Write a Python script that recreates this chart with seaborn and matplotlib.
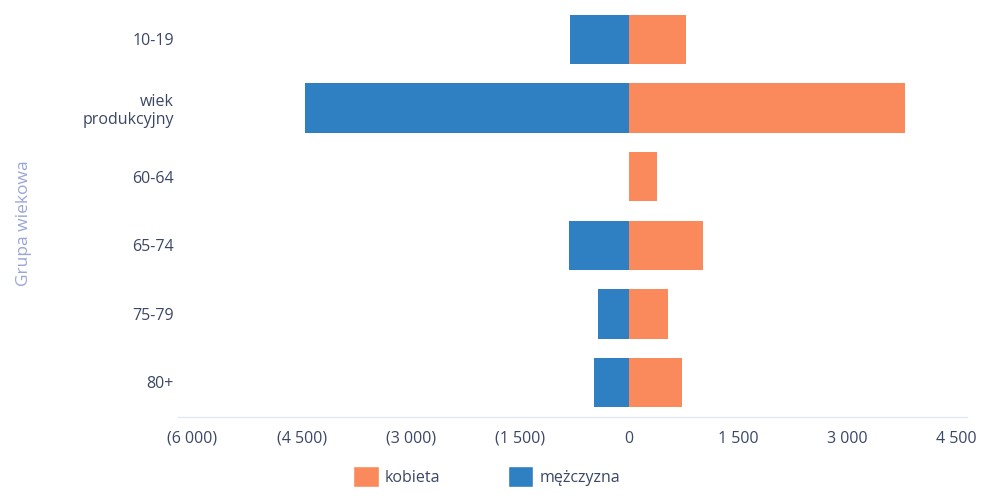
import pandas as pd
import matplotlib
matplotlib.use("Agg")
import matplotlib.pyplot as plt
from matplotlib.patches import Patch
from matplotlib.ticker import FuncFormatter
import seaborn as sns

grupy = ["10-19", "wiek\nprodukcyjny", "60-64", "65-74", "75-79", "80+"]
kobiety = [790, 3790, 385, 1015, 535, 730]
mezczyzni = [810, 4460, 0, 830, 425, 480]
ticks = [-6000, -4500, -3000, -1500, 0, 1500, 3000, 4500]

kolor_k = "#fa8a5c"
kolor_m = "#2e80c3"

df = pd.DataFrame({
    "grupa": grupy * 2,
    "plec": ["kobieta"] * len(grupy) + ["mężczyzna"] * len(grupy),
    "wartosc": kobiety + [-v for v in mezczyzni],
})

sns.set_style("white")
plt.rcParams["font.family"] = ["Open Sans", "DejaVu Sans"]

fig = plt.figure(figsize=(9.83, 5.04), dpi=100)
ax = fig.add_axes([0.181, 0.173, 0.803, 0.817])

sns.barplot(data=df, y="grupa", x="wartosc", hue="plec", dodge=False,
            palette={"kobieta": kolor_k, "mężczyzna": kolor_m}, saturation=1,
            width=0.72, edgecolor="none", legend=False, ax=ax)

def fmt(v, pos):
    s = f"{abs(int(v)):,}".replace(",", " ")
    return f"({s})" if v < 0 else s

ax.set_xlim(-6200, 4650)
ax.set_xticks(ticks)
ax.xaxis.set_major_formatter(FuncFormatter(fmt))
ax.tick_params(axis="x", length=0, pad=10, labelsize=11.5, labelcolor="#3b4766")
ax.tick_params(axis="y", length=0, pad=3, labelsize=11.5, labelcolor="#3b4766")
ax.set_xlabel("")
ax.set_ylabel("Grupa wiekowa", fontsize=12.5, color="#9aa6d6")
ax.yaxis.set_label_coords(-0.185, 0.47)

for s in ["top", "right", "left"]:
    ax.spines[s].set_visible(False)
ax.spines["bottom"].set_color("#e3e7f0")
ax.spines["bottom"].set_linewidth(1)

handles = [Patch(facecolor=kolor_k, label="kobieta"),
           Patch(facecolor=kolor_m, label="mężczyzna")]
fig.legend(handles=handles, loc="lower center", bbox_to_anchor=(0.495, 0.005),
           ncol=2, frameon=False, fontsize=11.5, handlelength=1.6, handleheight=1.7,
           handletextpad=0.4, columnspacing=4.2, labelcolor="#3b4766")

fig.savefig("out.png", dpi=100)
